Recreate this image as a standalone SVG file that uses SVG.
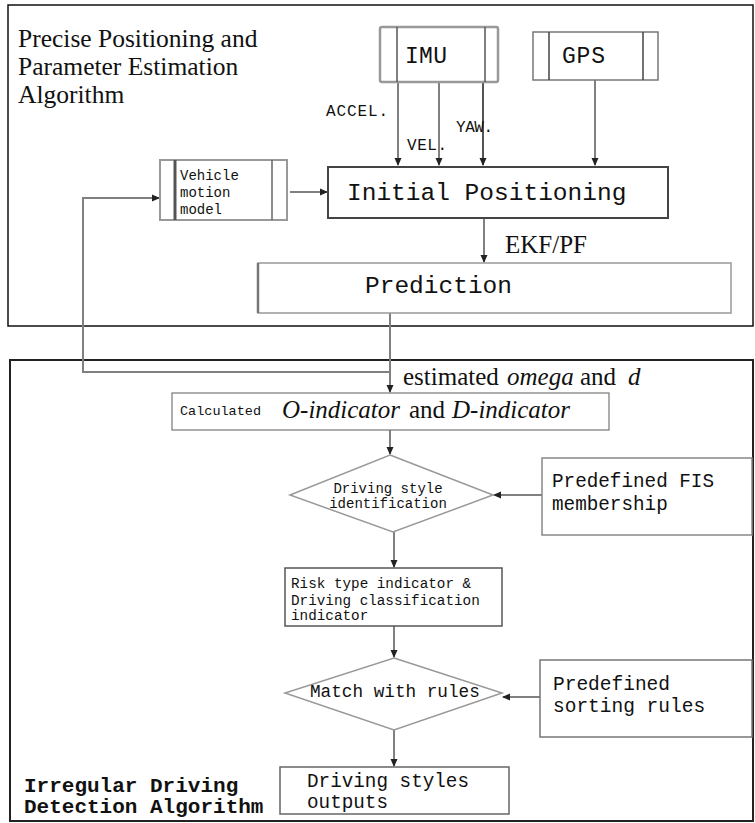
<svg xmlns="http://www.w3.org/2000/svg" width="755" height="823" viewBox="0 0 755 823">
<style>
.mono{font-family:"Liberation Mono","DejaVu Sans Mono",monospace;fill:#111}
.serif{font-family:"Liberation Serif","Times New Roman",serif;fill:#111}
.it{font-style:italic}
.conn{fill:none;stroke:#808080;stroke-width:2}
.dark{stroke:#555}
.box{fill:#fff}
</style>
<defs>
<marker id="ah" markerUnits="userSpaceOnUse" markerWidth="8" markerHeight="8" refX="7" refY="4" orient="auto">
<path d="M0,0.5 L8,4 L0,7.5 z" fill="#222"/>
</marker>
</defs>
<rect x="0" y="0" width="755" height="823" fill="#fff"/>

<g id="frame-top">
<rect x="8" y="5" width="745" height="321" fill="none" stroke="#111" stroke-width="1.5"/>
<text class="serif" font-size="25.5"><tspan x="18" y="47">Precise Positioning and</tspan><tspan x="18" y="75">Parameter Estimation</tspan><tspan x="18" y="103">Algorithm</tspan></text>
</g>
<g id="frame-bottom">
<rect x="10" y="360" width="743" height="461" fill="none" stroke="#222" stroke-width="2"/>
<text class="mono" font-size="21" font-weight="bold" fill="#222"><tspan x="24" y="792">Irregular Driving</tspan><tspan x="24" y="813">Detection Algorithm</tspan></text>
</g>

<g id="connectors">
<path class="conn" d="M398,82 V165" marker-end="url(#ah)"/>
<path class="conn" d="M439,82 V165" stroke="#999" stroke-width="1.5" marker-end="url(#ah)"/>
<path class="conn dark" d="M483,82 V165" marker-end="url(#ah)"/>
<path class="conn" d="M595,80 V165" marker-end="url(#ah)"/>
<path class="conn" d="M290,192 H327" stroke="#444" stroke-width="3" marker-end="url(#ah)"/>
<path class="conn" d="M484,218 V262" stroke-width="1.3" marker-end="url(#ah)"/>
<path class="conn" d="M390,313 V392" marker-end="url(#ah)"/>
<path class="conn" d="M390,372 H83 V198 H159" marker-end="url(#ah)"/>
<path class="conn" d="M390,430 V454" marker-end="url(#ah)"/>
<path class="conn" d="M542,495 H494" marker-end="url(#ah)"/>
<path class="conn" d="M394,532 V567" marker-end="url(#ah)"/>
<path class="conn" d="M394,626 V657" marker-end="url(#ah)"/>
<path class="conn" d="M540,697 H503" stroke-width="3" stroke="#999" marker-end="url(#ah)"/>
<path class="conn" d="M394,730 V766" marker-end="url(#ah)"/>
<text class="mono" font-size="16" x="326" y="116" textLength="62">ACCEL.</text>
<text class="mono" font-size="16" x="407" y="150" textLength="40">VEL.</text>
<text class="mono" font-size="16" x="456" y="132" textLength="37">YAW.</text>
<text class="serif" font-size="25" x="505" y="253">EKF/PF</text>
<text class="serif" font-size="25" y="385"><tspan x="403">estimated</tspan><tspan class="it" x="507">omega</tspan><tspan x="580">and</tspan><tspan class="it" x="628">d</tspan></text>
</g>

<g id="imu">
<rect class="box" x="380" y="27" width="118" height="55" rx="2" stroke="#999" stroke-width="2.5"/>
<path d="M397,27 V82 M485,27 V82" stroke="#555" stroke-width="1.5"/>
<text class="mono" font-size="23" x="405" y="63" textLength="42">IMU</text>
</g>
<g id="gps">
<rect class="box" x="533" y="32" width="125" height="48" stroke="#777" stroke-width="1.5"/>
<path d="M549,32 V80 M643,32 V80" stroke="#444" stroke-width="1.5"/>
<text class="mono" font-size="23" x="562" y="63" textLength="43">GPS</text>
</g>
<g id="vehicle-model">
<rect class="box" x="160" y="160" width="127" height="60" stroke="#999" stroke-width="2"/>
<path d="M175,160 V220" stroke="#555" stroke-width="3"/>
<path d="M272,160 V220" stroke="#666" stroke-width="1.5"/>
<text class="mono" font-size="14"><tspan x="180" y="180">Vehicle</tspan><tspan x="180" y="197">motion</tspan><tspan x="180" y="214">model</tspan></text>
</g>
<g id="initial-positioning">
<rect class="box" x="328" y="167" width="340" height="51" stroke="#444" stroke-width="2"/>
<text class="mono" font-size="24.5" x="347" y="200">Initial Positioning</text>
</g>
<g id="prediction">
<rect class="box" x="258" y="263" width="473" height="50" stroke="#999" stroke-width="1.5"/>
<path d="M258,263 V313" stroke="#777" stroke-width="2.5"/>
<text class="mono" font-size="24.5" x="365" y="293">Prediction</text>
</g>
<g id="calculated">
<rect class="box" x="172" y="393" width="437" height="37" stroke="#777" stroke-width="1.2"/>
<text class="mono" font-size="13.5" x="180" y="415">Calculated</text>
<text class="serif" font-size="25" y="418"><tspan class="it" x="282">O-indicator</tspan><tspan x="409">and</tspan><tspan class="it" x="452">D-indicator</tspan></text>
</g>
<g id="driving-style-identification">
<polygon points="390,455 493,495 393,532 290,495" fill="#fff" stroke="#999" stroke-width="1.5"/>
<text class="mono" font-size="14" text-anchor="middle"><tspan x="388" y="493">Driving style</tspan><tspan x="388" y="508">identification</tspan></text>
</g>
<g id="fis-membership">
<rect class="box" x="542" y="458" width="210" height="77" stroke="#888" stroke-width="1.5"/>
<text class="mono" font-size="19.3"><tspan x="552" y="487">Predefined FIS</tspan><tspan x="552" y="510">membership</tspan></text>
</g>
<g id="risk-indicator">
<rect class="box" x="285" y="568" width="217" height="58" stroke="#555" stroke-width="1.5"/>
<text class="mono" font-size="14.3"><tspan x="291" y="588">Risk type indicator &amp;</tspan><tspan x="291" y="605">Driving classification</tspan><tspan x="291" y="620">indicator</tspan></text>
</g>
<g id="match-rules">
<polygon points="394,658 502,693 394,730 285,693" fill="#fff" stroke="#999" stroke-width="1.5"/>
<text class="mono" font-size="17.7" x="310" y="697">Match with rules</text>
</g>
<g id="sorting-rules">
<rect class="box" x="540" y="660" width="212" height="77" stroke="#777" stroke-width="1.5"/>
<text class="mono" font-size="19.5"><tspan x="553" y="690">Predefined</tspan><tspan x="553" y="712">sorting rules</tspan></text>
</g>
<g id="outputs">
<rect class="box" x="280" y="767" width="229" height="47" stroke="#666" stroke-width="1.5"/>
<text class="mono" font-size="19.3"><tspan x="307" y="787">Driving styles</tspan><tspan x="307" y="808">outputs</tspan></text>
</g>
</svg>
